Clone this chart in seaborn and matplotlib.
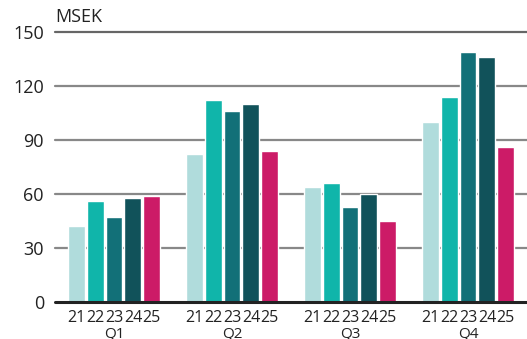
import matplotlib
matplotlib.use("Agg")
import matplotlib.pyplot as plt
import seaborn as sns
import pandas as pd

quarters = ["Q1", "Q2", "Q3", "Q4"]
years = ["21", "22", "23", "24", "25"]
values = {
    "21": [42, 82, 64, 100],
    "22": [56, 112, 66, 114],
    "23": [47, 106, 53, 139],
    "24": [58, 110, 60, 136],
    "25": [59, 84, 45, 86],
}
colors = ["#b0dcdc", "#10b5aa", "#127078", "#11525a", "#cc1b67"]
yticks = [0, 30, 60, 90, 120, 150]
unit_label = "MSEK"

rows = [(q, y, values[y][i]) for y in years for i, q in enumerate(quarters)]
df = pd.DataFrame(rows, columns=["quarter", "year", "value"])

sns.set_theme(style="white")
plt.rcParams["font.family"] = ["Open Sans", "DejaVu Sans"]

fig = plt.figure(figsize=(5.27, 3.39), dpi=100)
ax = fig.add_axes([55 / 527, 37 / 339, 472 / 527, 270 / 339])

sns.barplot(data=df, x="quarter", y="value", hue="year", order=quarters,
            hue_order=years, palette=colors, width=0.8, gap=0.1,
            saturation=1, legend=False, ax=ax, zorder=3)

ax.set_xlim(-0.5, 3.5)
ax.set_ylim(0, 150)
ax.set_yticks(yticks)
ax.set_yticklabels([str(t) for t in yticks], fontsize=13, color="#222222")
for t in yticks[1:]:
    ax.axhline(t, color="#888888" if t < 150 else "#666666", lw=1.6,
               zorder=1, clip_on=False)
ax.axhline(0, color="#222222", lw=2.2, zorder=4, clip_on=False)

for s in ax.spines.values():
    s.set_visible(False)
ax.tick_params(axis="both", length=0)
ax.tick_params(axis="y", pad=8)
ax.tick_params(axis="x", pad=18)
ax.set_xticklabels(quarters, fontsize=11, color="#222222")
ax.set_xlabel("")
ax.set_ylabel("")

# year labels under each bar
for patch, (q, y, v) in zip(ax.patches, rows):
    cx = patch.get_x() + patch.get_width() / 2
    ax.annotate(y, xy=(cx, 0), xycoords=("data", "axes fraction"),
                xytext=(0, -6), textcoords="offset points",
                ha="center", va="top", fontsize=11.5, color="#222222",
                annotation_clip=False)

fig.text(55 / 527, 1 - 17 / 339, unit_label, fontsize=13, color="#222222",
         ha="left", va="center")

fig.savefig("out.png", dpi=100)
